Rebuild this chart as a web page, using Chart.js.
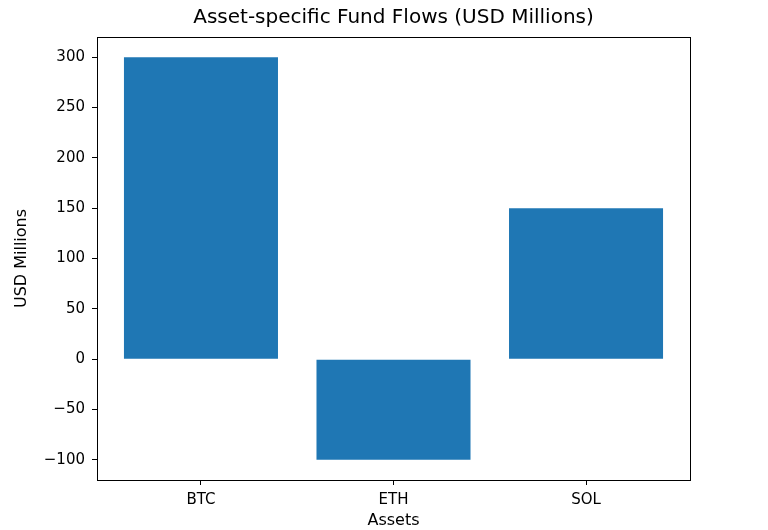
<!DOCTYPE html>
<html>
<head>
<meta charset="utf-8">
<script src="https://cdn.jsdelivr.net/npm/chart.js@4"></script>
<style>
  html, body { margin: 0; padding: 0; background: #fff; }
  #chart { display: block; }
</style>
</head>
<body>
<canvas id="chart" width="768" height="530"></canvas>
<script>
const assets = ["BTC", "ETH", "SOL"];
const flows = [300, -100, 150];
const yTicks = [-100, -50, 0, 50, 100, 150, 200, 250, 300];
const chartTitle = "Asset-specific Fund Flows (USD Millions)";

const font = "'DejaVu Sans', sans-serif";

// black frame round the plot area plus a title centred on it, matplotlib style
const frame = {
    id: "frame",
    afterDatasetsDraw(chart) {
        const a = chart.chartArea, ctx = chart.ctx;
        ctx.save();
        ctx.strokeStyle = "#000";
        ctx.lineWidth = 1;
        ctx.strokeRect(Math.round(a.left) + 0.5, Math.round(a.top) + 0.5,
            Math.round(a.right - a.left), Math.round(a.bottom - a.top));
        ctx.fillStyle = "#000";
        ctx.font = "20px " + font;
        ctx.textAlign = "center";
        ctx.textBaseline = "middle";
        ctx.fillText(chartTitle, (a.left + a.right) / 2, 18);
        ctx.restore();
    }
};

new Chart(document.getElementById("chart"), {
    type: "bar",
    data: {
        datasets: [{
            data: flows.map((v, i) => ({ x: i, y: v })),
            backgroundColor: "#1f77b4",
            borderWidth: 0,
            barPercentage: 0.8,
            categoryPercentage: 1
        }]
    },
    options: {
        responsive: false,
        animation: false,
        layout: { padding: { left: 0, right: 78, top: 37, bottom: 0 } },
        plugins: {
            legend: { display: false },
            tooltip: { enabled: false },
            title: { display: false }
        },
        scales: {
            x: {
                type: "linear",
                min: -0.54,
                max: assets.length - 1 + 0.54,
                offset: false,
                afterBuildTicks: s => { s.ticks = assets.map((_, i) => ({ value: i })); },
                afterFit: s => { s.height = 50; },
                ticks: {
                    callback: v => assets[v],
                    color: "#000",
                    font: { family: font, size: 15 },
                    padding: 6,
                    maxRotation: 0,
                    autoSkip: false
                },
                grid: { offset: false, drawOnChartArea: false, drawTicks: true, tickLength: 5, tickColor: "#000" },
                border: { display: false },
                title: {
                    display: true,
                    text: "Assets",
                    color: "#000",
                    font: { family: font, size: 16 },
                    padding: { top: 0, bottom: 0 }
                }
            },
            y: {
                min: -120,
                max: 320,
                afterBuildTicks: s => { s.ticks = yTicks.map(v => ({ value: v })); },
                afterFit: s => { s.width = 97; },
                ticks: {
                    callback: v => String(v).replace("-", "\u2212"),
                    color: "#000",
                    font: { family: font, size: 15 },
                    padding: 7
                },
                grid: { offset: false, drawOnChartArea: false, drawTicks: true, tickLength: 5, tickColor: "#000" },
                border: { display: false },
                title: {
                    display: true,
                    text: "USD Millions",
                    color: "#000",
                    font: { family: font, size: 16 },
                    padding: { top: 12, bottom: 4 }
                }
            }
        }
    },
    plugins: [frame]
});
</script>
</body>
</html>
